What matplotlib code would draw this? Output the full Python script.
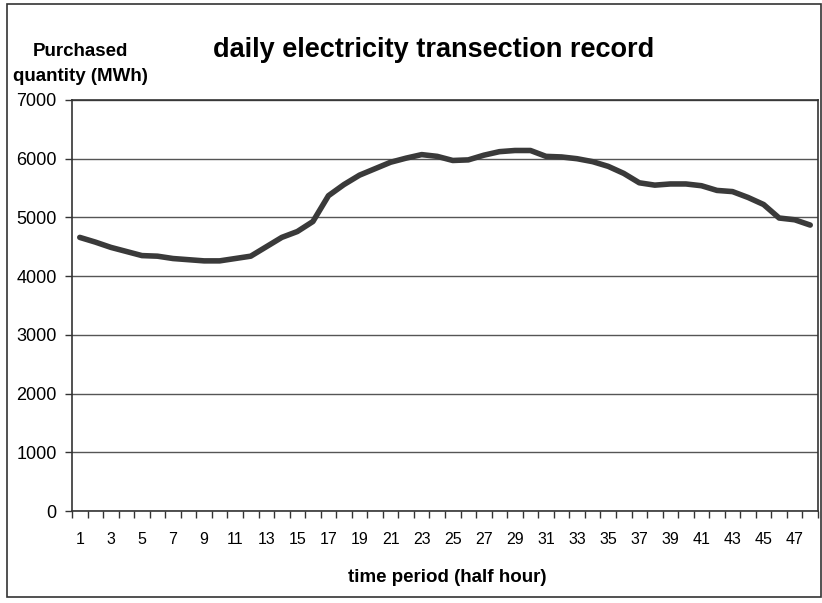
import numpy as np
import matplotlib.pyplot as plt
from matplotlib.patches import Rectangle

plt.rcParams['font.family'] = ['Liberation Sans', 'DejaVu Sans']

# half-hour periods and purchased quantity (MWh)
periods = list(range(1, 49))
quantity = [4660, 4580, 4490, 4420, 4350, 4340, 4300, 4280, 4260, 4260,
            4300, 4340, 4500, 4660, 4760, 4930, 5370, 5560, 5720, 5830,
            5940, 6010, 6070, 6040, 5970, 5980, 6060, 6120, 6140, 6140,
            6040, 6030, 6000, 5950, 5870, 5750, 5590, 5550, 5570, 5570,
            5540, 5460, 5440, 5340, 5220, 4990, 4960, 4870]
y_ticks = [0, 1000, 2000, 3000, 4000, 5000, 6000, 7000]

fig = plt.figure(figsize=(8.22, 6.03), dpi=100)
fig.patch.set_facecolor('white')
fig.patches.append(Rectangle((7 / 822, 6 / 603), 814 / 822, 593 / 603,
                             transform=fig.transFigure, fill=False,
                             edgecolor='#333333', linewidth=1.2))

ax = fig.add_axes([72 / 822, 92 / 603, 746 / 822, 411 / 603])
ax.plot(periods, quantity, color='#3a3a3a', linewidth=4, solid_capstyle='round')

ax.set_xlim(0.5, 48.5)
ax.set_ylim(0, 7000)
ax.set_yticks(y_ticks)
ax.yaxis.grid(True, color='#555555', linewidth=1)
ax.set_axisbelow(True)

# boundary ticks between periods, labels on odd periods
ax.set_xticks(np.arange(0.5, 49, 1))
ax.set_xticklabels([])
ax.set_xticks(periods[::2], minor=True)
ax.set_xticklabels([str(p) for p in periods[::2]], minor=True)
ax.tick_params(axis='x', which='major', direction='out', length=5, width=1, color='#333333')
ax.tick_params(axis='x', which='minor', length=0, pad=15, labelsize=11.5)
ax.tick_params(axis='y', direction='out', length=5, width=1, color='#333333', labelsize=13, pad=6)

for s in ax.spines.values():
    s.set_color('#333333')
    s.set_linewidth(1.2)

fig.text(434 / 822, 1 - 50 / 603, 'daily electricity transection record',
         ha='center', va='center', fontsize=19.5, fontweight='bold')
fig.text(80 / 822, 1 - 64 / 603, 'Purchased\nquantity (MWh)', ha='center', va='center',
         fontsize=13.5, fontweight='bold', linespacing=1.6)
fig.text(447 / 822, 1 - 578 / 603, 'time period (half hour)', ha='center', va='center',
         fontsize=13.5, fontweight='bold')

fig.savefig('out.png', dpi=100)
